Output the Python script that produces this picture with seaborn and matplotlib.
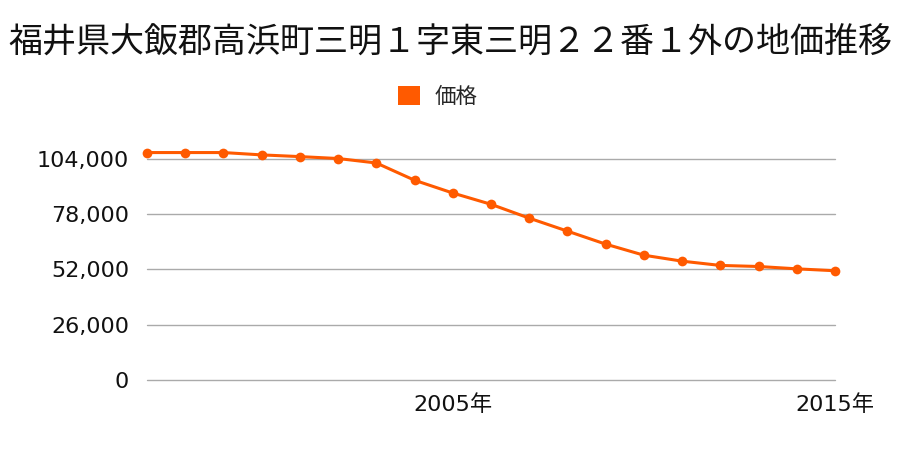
import matplotlib
matplotlib.use("Agg")
import matplotlib.pyplot as plt
import seaborn as sns
import pandas as pd
from matplotlib.patches import Patch
from matplotlib.ticker import FuncFormatter

title = "福井県大飯郡高浜町三明１字東三明２２番１外の地価推移"
series_name = "価格"
years = list(range(1997, 2016))
prices = [106800, 106800, 106800, 105700, 104900, 104000, 101900, 93800, 87800,
          82500, 76000, 69900, 63800, 58600, 55800, 53800, 53300, 52200, 51300]
y_ticks = [0, 26000, 52000, 78000, 104000]
x_ticks = [2005, 2015]
x_tick_labels = ["2005年", "2015年"]

color = "#FF5A00"

sns.set_theme(style="white")
plt.rcParams["font.family"] = ["Noto Sans CJK JP", "DejaVu Sans"]

df = pd.DataFrame({"year": years, "price": prices})

fig = plt.figure(figsize=(9, 4.5), dpi=100)
ax = fig.add_axes([147 / 900, 1 - 380 / 450, (835 - 147) / 900, (380 - 150) / 450])

sns.lineplot(data=df, x="year", y="price", ax=ax, color=color, linewidth=2.2,
             marker="o", markersize=7, markeredgewidth=0, clip_on=False, zorder=3)

ax.set_xlim(years[0], years[-1])
ax.set_ylim(0, 108000)
ax.set_yticks(y_ticks)
ax.yaxis.set_major_formatter(FuncFormatter(lambda v, p: f"{int(v):,}"))
ax.set_xticks(x_ticks)
ax.set_xticklabels(x_tick_labels)
ax.grid(axis="y", color="#aaaaaa", linewidth=1)
ax.grid(axis="x", visible=False)
for gl in ax.get_ygridlines():
    gl.set_clip_on(False)
for s in ax.spines.values():
    s.set_visible(False)
ax.tick_params(axis="y", length=0, pad=13, colors="#111111")
ax.tick_params(axis="x", length=0, pad=10, colors="#111111")
for lab in ax.get_yticklabels() + ax.get_xticklabels():
    lab.set_fontfamily(["DejaVu Sans", "Noto Sans CJK JP"])
    lab.set_fontsize(16)
ax.set_xlabel("")
ax.set_ylabel("")

fig.text(0.5, 1 - 43 / 450, title, ha="center", va="center", fontsize=24.5, color="#111111")
fig.legend(handles=[Patch(facecolor=color, edgecolor="none", label=series_name)],
           loc="center", bbox_to_anchor=(438 / 900, 1 - 97 / 450), frameon=False,
           fontsize=15.5, handlelength=1.0, handleheight=1.0, handletextpad=0.7)

fig.savefig("out.png", dpi=100)
